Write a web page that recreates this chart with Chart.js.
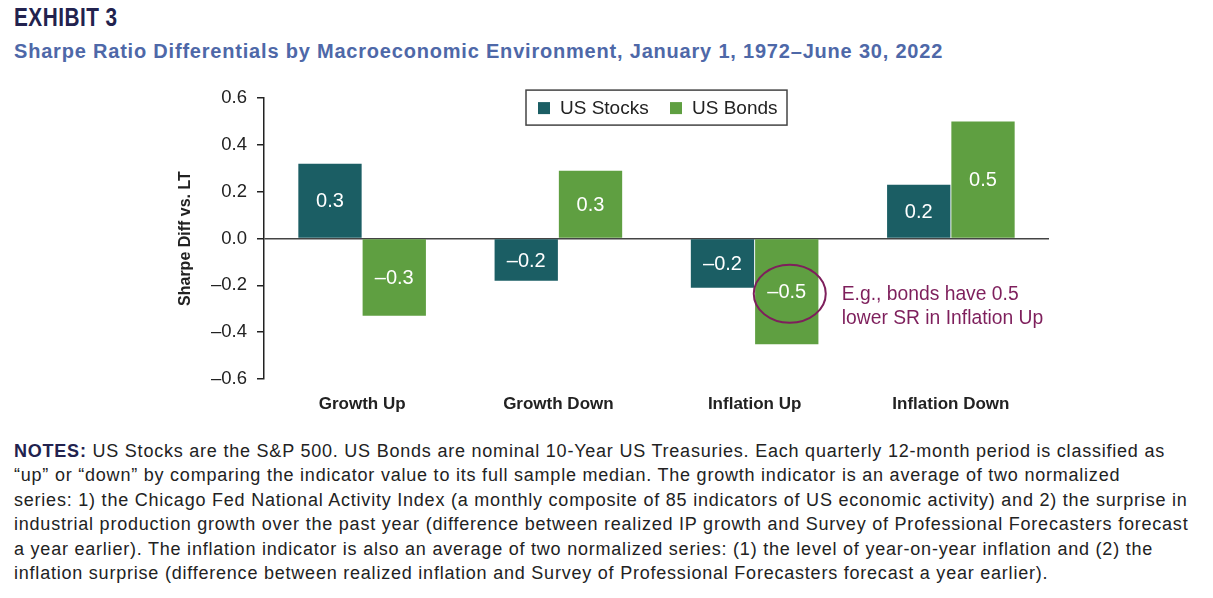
<!DOCTYPE html>
<html>
<head>
<meta charset="utf-8">
<script src="https://cdn.jsdelivr.net/npm/chart.js@4.4.0/dist/chart.umd.min.js"></script>
<style>
  body { margin: 0; background: #fff; font-family: "Liberation Sans", Arial, sans-serif; }
  #titulo { position: absolute; left: 14px; top: 3px; font-size: 25px; font-weight: bold; color: #22224e; letter-spacing: 0.6px; transform: scaleX(0.83); transform-origin: left top; }
  #subtitulo { position: absolute; left: 14px; top: 40px; font-size: 20px; font-weight: bold; color: #4e68a8; letter-spacing: 0.8px; }
  #grafico-box { position: absolute; left: 0; top: 77px; width: 1213px; height: 360px; }
  #grafico-box canvas { display: block; }
  #notas { position: absolute; left: 14px; top: 439px; font-size: 18px; line-height: 24.4px; color: #222; white-space: nowrap; letter-spacing: 0.78px; }
  #notas b { color: #22224e; }
</style>
</head>
<body>
<div id="titulo">EXHIBIT 3</div>
<div id="subtitulo">Sharpe Ratio Differentials by Macroeconomic Environment, January 1, 1972–June 30, 2022</div>
<div id="grafico-box"><canvas id="grafico-sharpe" width="1213" height="360"></canvas></div>
<div id="notas">
<b>NOTES:</b> US Stocks are the S&amp;P 500. US Bonds are nominal 10-Year US Treasuries. Each quarterly 12-month period is classified as<br>
“up” or “down” by comparing the indicator value to its full sample median. The growth indicator is an average of two normalized<br>
series: 1) the Chicago Fed National Activity Index (a monthly composite of 85 indicators of US economic activity) and 2) the surprise in<br>
industrial production growth over the past year (difference between realized IP growth and Survey of Professional Forecasters forecast<br>
a year earlier). The inflation indicator is also an average of two normalized series: (1) the level of year-on-year inflation and (2) the<br>
inflation surprise (difference between realized inflation and Survey of Professional Forecasters forecast a year earlier).
</div>
<script>
// Datos
const categorias = ['Growth Up', 'Growth Down', 'Inflation Up', 'Inflation Down'];
const acciones = [0.32, -0.18, -0.21, 0.23];
const bonos = [-0.33, 0.29, -0.452, 0.50];
const ticksY = [-0.6, -0.4, -0.2, 0.0, 0.2, 0.4, 0.6];
const nota = ['E.g., bonds have 0.5', 'lower SR in Inflation Up'];

const COLOR_ACCIONES = '#1b5e64';
const COLOR_BONOS = '#5f9f41';
const COLOR_NOTA = '#7e1f5c';

// Formato con guion largo para negativos
function fmt(v) {
    const r = Math.round(Math.abs(v) * 10) / 10;
    return (v < 0 && r > 0 ? '–' : '') + r.toFixed(1);
}

// ✅ Etiquetas dentro de cada barra
const etiquetasPlugin = {
    id: 'etiquetas',
    afterDatasetsDraw(chart) {
        const ctx = chart.ctx;
        ctx.save();
        ctx.fillStyle = '#fff';
        ctx.font = '20px "Liberation Sans", Arial, sans-serif';
        ctx.textAlign = 'center';
        ctx.textBaseline = 'middle';
        chart.data.datasets.forEach((ds, i) => {
            chart.getDatasetMeta(i).data.forEach((bar, j) => {
                const yMid = (bar.y + bar.base) / 2;
                ctx.fillText(fmt(ds.data[j]), bar.x, yMid + 1);
            });
        });
        ctx.restore();
    }
};

// ✅ Leyenda en recuadro sobre el área del gráfico
const leyendaPlugin = {
    id: 'leyendaCaja',
    afterDraw(chart) {
        const ctx = chart.ctx;
        const area = chart.chartArea;
        const w = 261, h = 35;
        const x0 = (area.left + area.right) / 2 - w / 2;
        const y0 = area.top - 8;
        ctx.save();
        ctx.strokeStyle = '#444';
        ctx.lineWidth = 1.5;
        ctx.fillStyle = '#fff';
        ctx.fillRect(x0, y0, w, h);
        ctx.strokeRect(x0, y0, w, h);
        ctx.font = '19px "Liberation Sans", Arial, sans-serif';
        ctx.textBaseline = 'middle';
        ctx.textAlign = 'left';
        const items = [[12, 34], [144, 166]];
        chart.data.datasets.forEach((ds, i) => {
            ctx.fillStyle = ds.backgroundColor;
            ctx.fillRect(x0 + items[i][0], y0 + 12, 12, 12);
            ctx.fillStyle = '#222';
            ctx.fillText(ds.label, x0 + items[i][1], y0 + h / 2 + 1);
        });
        ctx.restore();
    }
};

// ✅ Círculo y comentario sobre la barra de bonos en Inflation Up
const notaPlugin = {
    id: 'nota',
    afterDraw(chart) {
        const ctx = chart.ctx;
        const bar = chart.getDatasetMeta(1).data[2];
        const cx = bar.x + 3;
        const cy = (bar.y + bar.base) / 2 + 2;
        ctx.save();
        ctx.strokeStyle = COLOR_NOTA;
        ctx.lineWidth = 2;
        ctx.beginPath();
        ctx.ellipse(cx, cy, 36, 29, 0, 0, Math.PI * 2);
        ctx.stroke();
        ctx.fillStyle = COLOR_NOTA;
        ctx.font = '19.3px "Liberation Sans", Arial, sans-serif';
        ctx.textAlign = 'left';
        ctx.textBaseline = 'middle';
        ctx.fillText(nota[0], bar.x + 55, cy + 1);
        ctx.fillText(nota[1], bar.x + 55, cy + 25);
        ctx.restore();
    }
};

const ctx = document.getElementById('grafico-sharpe').getContext('2d');
window.miGrafico = new Chart(ctx, {
    type: 'bar',
    data: {
        labels: categorias,
        datasets: [
            { label: 'US Stocks', data: acciones, backgroundColor: COLOR_ACCIONES },
            { label: 'US Bonds', data: bonos, backgroundColor: COLOR_BONOS }
        ]
    },
    options: {
        responsive: false,
        animation: false,
        layout: { padding: { left: 172, right: 164, top: 14, bottom: 8 } },
        datasets: { bar: { categoryPercentage: 0.655, barPercentage: 0.985 } },
        plugins: {
            legend: { display: false },
            tooltip: { enabled: false }
        },
        scales: {
            x: {
                afterFit(scale) { scale.height = 50; },
                grid: { display: false },
                border: { display: false },
                ticks: {
                    color: '#222',
                    padding: 7,
                    font: { family: '"Liberation Sans", Arial, sans-serif', size: 17, weight: 'bold' }
                }
            },
            y: {
                min: -0.6,
                max: 0.6,
                afterFit(scale) { scale.width = 92; },
                afterBuildTicks(scale) { scale.ticks = ticksY.map(v => ({ value: v })); },
                border: { display: true, color: '#222', width: 1.5 },
                grid: {
                    drawOnChartArea: true,
                    drawTicks: true,
                    tickLength: 7,
                    tickColor: '#222',
                    lineWidth: 1.5,
                    color: c => (c.tick && Math.abs(c.tick.value) < 1e-9) ? '#444' : 'rgba(0,0,0,0)'
                },
                ticks: {
                    color: '#222',
                    padding: 10,
                    font: { family: '"Liberation Sans", Arial, sans-serif', size: 18.5 },
                    callback: v => fmt(v)
                },
                title: {
                    display: true,
                    text: 'Sharpe Diff vs. LT',
                    color: '#222',
                    font: { family: '"Liberation Sans", Arial, sans-serif', size: 16, weight: 'bold' }
                }
            }
        }
    },
    plugins: [etiquetasPlugin, leyendaPlugin, notaPlugin]
});
</script>
</body>
</html>
